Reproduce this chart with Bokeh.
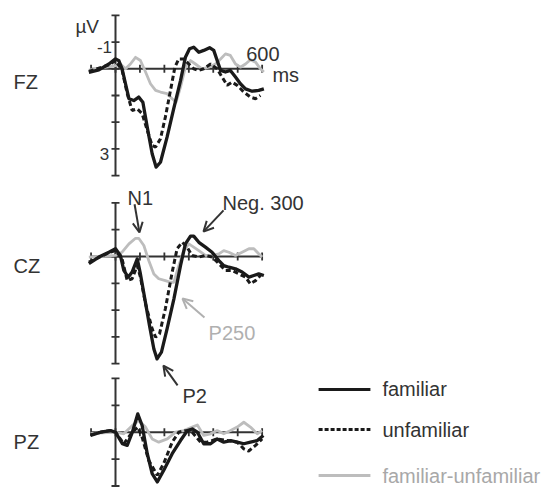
from bokeh.plotting import figure
from bokeh.models import Range1d, Arrow, OpenHead
from bokeh.core.properties import value
from bokeh.embed import file_html
from bokeh.resources import INLINE

# ---------------- data (ms, µV; negative plotted upward) ----------------
fz_fam_t = [-109, -68, -27, 0, 14, 27, 41, 55, 75, 95, 112, 130, 150, 166, 184, 211, 238, 266, 286, 303, 320, 341, 361, 385, 402, 416, 430, 450, 470, 491, 511, 532, 559, 586, 607]
fz_fam_v = [0.13, 0.04, -0.18, -0.37, -0.3, 0.0, 0.56, 1.12, 1.19, 1.06, 1.25, 2.19, 3.18, 3.68, 3.5, 2.56, 1.5, 0.44, -0.43, -0.75, -0.81, -0.62, -0.69, -0.79, -0.69, -0.31, 0.06, 0.12, 0.06, 0.31, 0.56, 0.75, 0.84, 0.81, 0.75]
fz_unf_t = [-109, -27, 0, 27, 48, 68, 89, 109, 130, 150, 164, 184, 204, 225, 243, 259, 279, 300, 320, 341, 361, 389, 416, 436, 457, 477, 498, 525, 552, 573, 593]
fz_unf_v = [0.1, -0.15, -0.3, 0.05, 0.93, 1.56, 1.5, 1.68, 2.31, 2.87, 2.93, 2.62, 1.81, 0.81, -0.06, -0.37, -0.37, -0.18, 0.0, 0.06, 0.0, -0.18, 0.0, 0.31, 0.62, 0.5, 0.62, 0.87, 1.06, 1.12, 1.0]
fz_dif_t = [-109, 0, 20, 41, 61, 82, 102, 123, 143, 164, 184, 211, 232, 248, 266, 286, 307, 327, 354, 382, 409, 430, 450, 470, 491, 511, 532, 552, 573, 593, 607]
fz_dif_v = [0.05, -0.12, -0.18, 0.0, -0.18, -0.43, -0.31, 0.12, 0.56, 0.81, 0.87, 0.93, 1.12, 1.25, 0.69, -0.06, -0.31, -0.18, 0.0, -0.06, -0.18, -0.37, -0.56, -0.5, -0.18, -0.06, -0.18, -0.34, -0.25, 0.0, 0.12]

cz_fam_t = [-109, -68, -27, 0, 20, 34, 52, 68, 89, 102, 120, 139, 157, 170, 188, 211, 239, 266, 286, 307, 320, 341, 368, 395, 423, 443, 464, 491, 518, 546, 566, 586, 607]
cz_fam_v = [0.27, 0.02, -0.16, -0.29, -0.04, 0.52, 0.77, 0.58, 0.09, 0.65, 1.58, 2.57, 3.45, 3.82, 3.57, 2.7, 1.58, 0.34, -0.47, -0.76, -0.76, -0.53, -0.35, -0.16, 0.15, 0.34, 0.4, 0.46, 0.58, 0.77, 0.71, 0.65, 0.71]
cz_unf_t = [-109, -27, 0, 27, 48, 68, 89, 102, 123, 150, 164, 180, 204, 232, 252, 273, 293, 313, 341, 368, 395, 423, 450, 477, 505, 532, 552, 573, 593]
cz_unf_v = [0.21, -0.14, -0.22, 0.09, 0.9, 0.83, 0.34, 0.77, 1.77, 2.7, 3.01, 2.89, 1.95, 0.58, -0.29, -0.53, -0.35, -0.04, 0.02, -0.04, 0.02, 0.27, 0.52, 0.52, 0.65, 0.77, 1.02, 0.9, 0.71]
cz_dif_t = [-109, 0, 27, 55, 82, 95, 116, 136, 157, 177, 204, 225, 239, 259, 279, 300, 320, 341, 368, 395, 423, 443, 464, 491, 518, 546, 566, 586, 600]
cz_dif_v = [0.02, -0.04, -0.16, -0.47, -0.68, -0.68, -0.41, 0.15, 0.65, 0.83, 0.9, 0.96, 0.96, 0.34, -0.22, -0.47, -0.35, -0.22, -0.04, -0.04, -0.1, -0.22, -0.16, -0.04, -0.16, -0.29, -0.29, -0.1, 0.02]

pz_fam_t = [-102, -61, -20, 0, 28, 48, 69, 91, 109, 130, 150, 171, 197, 232, 266, 294, 314, 335, 361, 389, 416, 443, 471, 498, 525, 552, 580, 605]
pz_fam_v = [0.12, 0, -0.06, 0, 0.43, 0.49, 0, -0.68, -0.25, 0.8, 1.54, 1.85, 1.42, 0.8, 0.31, -0.06, -0.12, 0, 0.43, 0.43, 0.25, 0.37, 0.31, 0.37, 0.43, 0.37, 0.31, 0.12]
pz_unf_t = [-102, -61, -20, 0, 34, 69, 91, 109, 136, 171, 197, 232, 259, 286, 314, 348, 375, 416, 457, 498, 525, 545, 573, 600]
pz_unf_v = [0.1, 0, -0.06, 0, 0.43, 0, -0.19, 0.19, 1.05, 1.6, 1.17, 0.37, 0, -0.06, 0, 0.37, 0.37, 0.25, 0.31, 0.37, 0.62, 0.7, 0.49, 0.25]
pz_dif_t = [-102, -51, 0, 34, 69, 95, 123, 150, 177, 212, 246, 279, 314, 335, 361, 389, 416, 443, 471, 498, 525, 552, 580, 600]
pz_dif_v = [0.05, 0.02, 0, 0.06, -0.25, -0.43, -0.19, 0.25, 0.37, 0.25, 0, -0.06, -0.19, -0.27, 0.12, 0.06, -0.06, 0.06, -0.06, -0.19, -0.37, -0.19, 0.06, -0.06]

electrodes = ["FZ", "CZ", "PZ"]
x_ticks = [-100, 0, 100, 200, 300, 400, 500, 600]
y_ticks_fz = [-2, -1, 0, 1, 2, 3, 4]
y_ticks_cz = [-2, -1, 0, 1, 2, 3, 4]
y_ticks_pz = [-2, -1, 0, 1, 2]
fz_tick_labels = ["-1", "3"]
fz_tick_values = [-1, 3]
components = ["N1", "Neg. 300", "P2"]
legend_labels = ["familiar", "unfamiliar", "familiar-unfamiliar"]

# ---------------- layout constants ----------------
W, H = 547, 489
X0_PX, PX_PER_MS = 115, 0.2444
PANELS = {"default": (68.3, 26.7), "cz": (256.0, 26.8), "pz": (431.7, 26.9)}

BLACK = "#1a1a1a"
GRAY = "#bdbdbd"
TEXT = "#333333"
AXIS = "#333333"
LGRAY_TEXT = "#b0b0b0"
FONT = value("Liberation Sans")


def vrange(zero, scale):
    return Range1d(start=(H - zero) / scale, end=-zero / scale)


p = figure(width=W, height=H, title=None,
           x_range=Range1d(-X0_PX / PX_PER_MS, (W - X0_PX) / PX_PER_MS),
           y_range=vrange(*PANELS["default"]),
           output_backend="svg", toolbar_location=None,
           x_axis_type=None, y_axis_type=None, min_border=0)
p.extra_y_ranges = {"cz": vrange(*PANELS["cz"]), "pz": vrange(*PANELS["pz"])}
p.grid.visible = False
p.outline_line_color = None
p.background_fill_color = "white"
p.border_fill_color = "white"

TICK_HALF_MS = 4.0 / PX_PER_MS


def draw_axes(rn, yticks):
    scale = PANELS[rn][1]
    xt_half = 4.0 / scale
    p.segment(x0=[0], y0=[min(yticks)], x1=[0], y1=[max(yticks)],
              line_color=AXIS, line_width=2, y_range_name=rn)
    p.segment(x0=[-TICK_HALF_MS] * len(yticks), y0=yticks,
              x1=[TICK_HALF_MS] * len(yticks), y1=yticks,
              line_color=AXIS, line_width=1.8, y_range_name=rn)
    p.segment(x0=[min(x_ticks)], y0=[0], x1=[max(x_ticks)], y1=[0],
              line_color=AXIS, line_width=2, y_range_name=rn)
    p.segment(x0=x_ticks, y0=[-xt_half] * len(x_ticks),
              x1=x_ticks, y1=[xt_half] * len(x_ticks),
              line_color=AXIS, line_width=1.8, y_range_name=rn)


def draw_curves(rn, ft, fv, ut, uv, dt, dv):
    p.line(dt, dv, line_color=GRAY, line_width=2.8, line_join="round", y_range_name=rn)
    p.line(ut, uv, line_color=BLACK, line_width=3.0, line_dash="5 3", y_range_name=rn)
    p.line(ft, fv, line_color=BLACK, line_width=3.3, line_join="round", y_range_name=rn)


draw_axes("default", y_ticks_fz)
draw_axes("cz", y_ticks_cz)
draw_axes("pz", y_ticks_pz)
draw_curves("default", fz_fam_t, fz_fam_v, fz_unf_t, fz_unf_v, fz_dif_t, fz_dif_v)
draw_curves("cz", cz_fam_t, cz_fam_v, cz_unf_t, cz_unf_v, cz_dif_t, cz_dif_v)
draw_curves("pz", pz_fam_t, pz_fam_v, pz_unf_t, pz_unf_v, pz_dif_t, pz_dif_v)

# electrode labels
for name, rn, yb in zip(electrodes, ["default", "cz", "pz"], [0.48, 0.34, 0.35]):
    p.text(x=[-417], y=[yb], text=[name], text_font=FONT, text_font_size="20px",
           text_color=TEXT, text_align="left", text_baseline="alphabetic", y_range_name=rn)

# FZ axis labels
p.text(x=[-164], y=[-1.58], text=["µV"], text_font=FONT, text_font_size="19px",
       text_color=TEXT, text_align="left", text_baseline="alphabetic")
p.text(x=[-14, -26], y=[v + 0.19 for v in fz_tick_values], text=fz_tick_labels,
       text_font=FONT, text_font_size="17px",
       text_color=TEXT, text_align="right", text_baseline="alphabetic")
p.text(x=[603], y=[-0.57], text=["600"], text_font=FONT, text_font_size="20px",
       text_color=TEXT, text_align="center", text_baseline="alphabetic")
p.text(x=[642], y=[0.25], text=["ms"], text_font=FONT, text_font_size="20px",
       text_color=TEXT, text_align="left", text_baseline="alphabetic")

# CZ component annotations
p.text(x=[49, 438, 274], y=[-2.2, -2.01, 5.19], text=components,
       text_font=FONT, text_font_size="20px", text_color=TEXT,
       text_align="left", text_baseline="alphabetic", y_range_name="cz")
p.text(x=[381], y=[2.87], text=["P250"], text_font=FONT, text_font_size="20px",
       text_color=LGRAY_TEXT, text_align="left", text_baseline="alphabetic", y_range_name="cz")

arrows = [((78, -1.95), (98, -0.9), TEXT),
          ((442, -1.72), (360, -0.93), TEXT),
          ((364, 2.28), (274, 1.57), LGRAY_TEXT),
          ((254, 4.81), (196, 4.07), TEXT)]
for (xs, ys), (xe, ye), col in arrows:
    p.add_layout(Arrow(x_start=xs, y_start=ys, x_end=xe, y_end=ye,
                       line_color=col, line_width=2,
                       end=OpenHead(size=10, line_color=col, line_width=2),
                       y_range_name="cz"))

# legend (in PZ panel coordinates)
leg_y = [-1.59, -0.1, 1.61]
leg_col = [BLACK, BLACK, GRAY]
leg_dash = ["solid", "4 2", "solid"]
leg_txt_col = [TEXT, TEXT, "#a8a8a8"]
for lab, yy, c, d, tc in zip(legend_labels, leg_y, leg_col, leg_dash, leg_txt_col):
    p.segment(x0=[831], y0=[yy], x1=[1043], y1=[yy], line_color=c, line_width=3,
              line_dash=d, y_range_name="pz")
    p.text(x=[1092], y=[yy], text=[lab], text_font=FONT, text_font_size="20px",
           text_color=tc, text_align="left", text_baseline="middle", y_range_name="pz")

open("out.html", "w").write(file_html(p, INLINE))
